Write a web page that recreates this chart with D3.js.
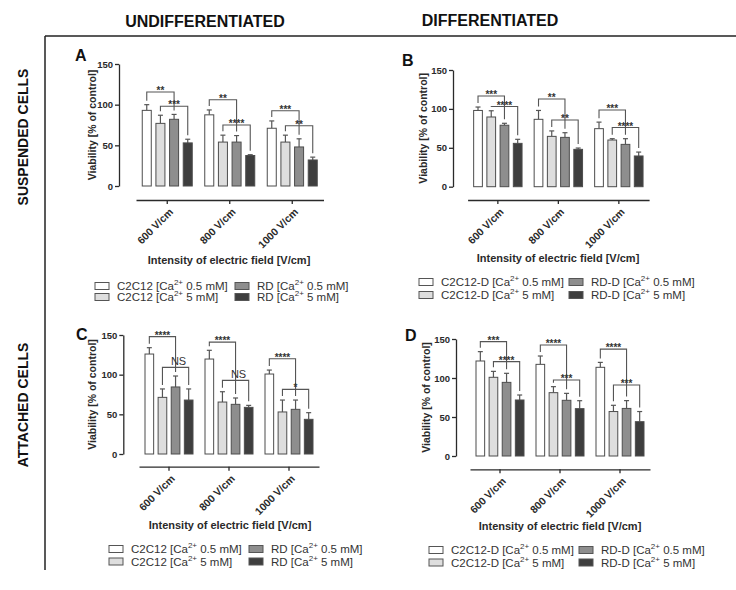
<!DOCTYPE html>
<html><head><meta charset="utf-8">
<script src="https://cdn.jsdelivr.net/npm/d3@7"></script>
<style>body{margin:0;background:#fff} svg{display:block}</style>
</head><body><svg id="c" width="736" height="590"></svg>
<script>
// ---------- data ----------
const groups = ["600 V/cm", "800 V/cm", "1000 V/cm"];
const yTicks = [0, 50, 100, 150];
const seriesKeys = ["s1", "s2", "s3", "s4"];
const seriesColors = ["#ffffff", "#dedede", "#8e8e8e", "#3e3e3e"];
const legendUndiff = [["C2C12", "0.5 mM"], ["C2C12", "5 mM"], ["RD", "0.5 mM"], ["RD", "5 mM"]];
const legendDiff = [["C2C12-D", "0.5 mM"], ["C2C12-D", "5 mM"], ["RD-D", "0.5 mM"], ["RD-D", "5 mM"]];
const columnHeaders = ["UNDIFFERENTIATED", "DIFFERENTIATED"];
const rowHeaders = ["SUSPENDED CELLS", "ATTACHED CELLS"];
const yTitle = "Viability [% of control]";
const xTitle = "Intensity of electric field [V/cm]";

// means[group][series], err[group][series]
const meansA = [[93, 77, 82, 53], [87.5, 54, 54, 37.5], [71, 54, 48, 32]];
const errA = [[7, 10, 6, 4.5], [6, 8.5, 8, 1], [9, 8.5, 10, 3.5]];
// [group, fromSeries, toSeries, label, level]
const sigA = [[0, 0, 2, "**", 115.5], [0, 1, 3, "***", 98], [1, 0, 2, "**", 106], [1, 1, 3, "****", 75], [2, 0, 2, "***", 92.5], [2, 1, 3, "**", 74]];

const meansB = [[98, 89.6, 79, 55.7], [86.6, 64.7, 63.4, 48], [74.6, 60, 54.4, 39.5]];
const errB = [[4.4, 8, 2.5, 5.2], [11.4, 7, 6, 1.7], [8.4, 1.7, 7.3, 5]];
const sigB = [[0, 0, 2, "***", 116.6], [0, 1, 3, "****", 103], [1, 0, 2, "**", 112.7], [1, 1, 3, "**", 85.7], [2, 0, 2, "***", 98.6], [2, 1, 3, "****", 76]];

const meansC = [[126, 71.4, 84.5, 68], [119.7, 65.5, 62.6, 58.8], [100.8, 53, 56.3, 43.7]];
const errC = [[8, 10.6, 13.8, 14], [11, 13, 8, 2.5], [5, 15, 11.7, 8.4]];
const sigC = [[0, 0, 2, "****", 147.9], [0, 1, 3, "NS", 109.2], [1, 0, 2, "****", 141], [1, 1, 3, "NS", 92.8], [2, 0, 2, "****", 120], [2, 1, 3, "*", 81.5]];

const meansD = [[121.8, 100.9, 94.4, 71.8], [117.5, 81.2, 71.4, 60.7], [113.7, 57, 61, 44]];
const errD = [[12, 7.6, 11.6, 6.4], [10.7, 7.7, 8.9, 10.2], [6.3, 8, 10, 13]];
const sigD = [[0, 0, 2, "***", 146.6], [0, 1, 3, "****", 121], [1, 0, 2, "****", 142.3], [1, 1, 3, "***", 97.4], [2, 0, 2, "****", 137], [2, 1, 3, "***", 91]];

// ---------- layout ----------
const FONT = "'Liberation Sans', Arial, Helvetica, sans-serif";
const INK = "#2a2a2a";
const panels = [
  { letter: "A", means: meansA, err: errA, sig: sigA, legend: legendUndiff, letterPos: [75, 61],
    yRange: [186, 64], xRange: [136, 323.5], axisX: 119, xAxisY: 200, yTitleX: 96, xTitlePos: [229, 264],
    leg: { c1: 95, c2: 235, r1: 286, r2: 297 } },
  { letter: "B", means: meansB, err: errB, sig: sigB, legend: legendDiff, letterPos: [402, 66],
    yRange: [186.7, 70], xRange: [467.6, 649.1], axisX: 453, xAxisY: 200, yTitleX: 427, xTitlePos: [558, 262],
    leg: { c1: 419, c2: 569, r1: 282, r2: 295 } },
  { letter: "C", means: meansC, err: errC, sig: sigC, legend: legendUndiff, letterPos: [76, 340],
    yRange: [454, 335], xRange: [139, 319], axisX: 123.3, xAxisY: 466.7, yTitleX: 96, xTitlePos: [230, 529],
    leg: { c1: 109, c2: 249, r1: 549, r2: 561.5 } },
  { letter: "D", means: meansD, err: errD, sig: sigD, legend: legendDiff, letterPos: [405, 341],
    yRange: [456, 339], xRange: [470, 650], axisX: 456, xAxisY: 469.3, yTitleX: 430, xTitlePos: [560, 530],
    leg: { c1: 429, c2: 579, r1: 550, r2: 562.5 } }
];

const svg = d3.select("#c").style("font-family", FONT);

// global frame
svg.append("line").attr("x1", 45).attr("x2", 736).attr("y1", 36).attr("y2", 36).attr("stroke", "#222").attr("stroke-width", 1.5);
svg.append("line").attr("x1", 45).attr("x2", 45).attr("y1", 36).attr("y2", 570).attr("stroke", "#222").attr("stroke-width", 1.5);
svg.append("text").attr("x", 205).attr("y", 27).attr("text-anchor", "middle").attr("font-weight", "bold").attr("font-size", 16).attr("fill", "#111").text(columnHeaders[0]);
svg.append("text").attr("x", 490).attr("y", 26).attr("text-anchor", "middle").attr("font-weight", "bold").attr("font-size", 16).attr("fill", "#111").text(columnHeaders[1]);
svg.append("text").attr("transform", "translate(28,137) rotate(-90)").attr("text-anchor", "middle").attr("font-weight", "bold").attr("font-size", 14).attr("fill", "#111").text(rowHeaders[0]);
svg.append("text").attr("transform", "translate(28,405) rotate(-90)").attr("text-anchor", "middle").attr("font-weight", "bold").attr("font-size", 14).attr("fill", "#111").text(rowHeaders[1]);

panels.forEach(p => {
  const g = svg.append("g");
  const y = d3.scaleLinear().domain([0, 150]).range(p.yRange);
  const x0 = d3.scaleBand().domain(groups).range(p.xRange).paddingInner(0.2).paddingOuter(0.1);
  const x1 = d3.scaleBand().domain(seriesKeys).range([0, x0.bandwidth()]).paddingInner(0.34).paddingOuter(0);
  const color = d3.scaleOrdinal().domain(seriesKeys).range(seriesColors);

  // panel letter
  g.append("text").attr("x", p.letterPos[0]).attr("y", p.letterPos[1]).attr("font-weight", "bold").attr("font-size", 16).attr("fill", "#111").text(p.letter);

  // y axis
  const ya = g.append("g").attr("transform", `translate(${p.axisX},0)`)
    .call(d3.axisLeft(y).tickValues(yTicks).tickSize(4).tickSizeOuter(0));
  ya.select(".domain").attr("stroke", INK).attr("stroke-width", 1.3);
  ya.selectAll(".tick line").attr("stroke", INK).attr("stroke-width", 1.3);
  ya.selectAll(".tick text").attr("font-family", FONT).attr("font-size", 9.5).attr("font-weight", "bold").attr("fill", INK).attr("x", -6);

  // y title
  const yc = (p.yRange[0] + p.yRange[1]) / 2;
  g.append("text").attr("transform", `translate(${p.yTitleX},${yc}) rotate(-90)`).attr("text-anchor", "middle")
    .attr("font-size", 10.5).attr("font-weight", "bold").attr("fill", INK).text(yTitle);

  // x axis
  const xa = g.append("g").attr("transform", `translate(0,${p.xAxisY})`)
    .call(d3.axisBottom(x0).tickSize(4).tickSizeOuter(0));
  xa.select(".domain").attr("stroke", INK).attr("stroke-width", 1.3);
  xa.selectAll(".tick line").attr("stroke", INK).attr("stroke-width", 1.3);
  xa.selectAll(".tick text").attr("font-family", FONT).attr("font-size", 10.5).attr("font-weight", "bold").attr("fill", INK)
    .attr("text-anchor", "end").attr("x", 0).attr("y", 0).attr("dy", "0.35em")
    .attr("transform", "translate(4,10) rotate(-45)");

  // x title
  g.append("text").attr("x", p.xTitlePos[0]).attr("y", p.xTitlePos[1]).attr("text-anchor", "middle")
    .attr("font-size", 11).attr("font-weight", "bold").attr("fill", INK).text(xTitle);

  // bars
  const rows = [];
  p.means.forEach((vals, gi) => vals.forEach((v, si) => rows.push({ g: groups[gi], k: seriesKeys[si], v, e: p.err[gi][si] })));
  const cx = d => x0(d.g) + x1(d.k) + x1.bandwidth() / 2;
  g.selectAll("line.eb").data(rows).join("line").attr("class", "eb")
    .attr("x1", cx).attr("x2", cx).attr("y1", d => y(d.v)).attr("y2", d => y(d.v + d.e))
    .attr("stroke", "#555").attr("stroke-width", 1.2);
  g.selectAll("line.cap").data(rows).join("line").attr("class", "cap")
    .attr("x1", d => cx(d) - 2.5).attr("x2", d => cx(d) + 2.5).attr("y1", d => y(d.v + d.e)).attr("y2", d => y(d.v + d.e))
    .attr("stroke", "#555").attr("stroke-width", 1.2);
  g.selectAll("rect.bar").data(rows).join("rect").attr("class", "bar")
    .attr("x", d => x0(d.g) + x1(d.k)).attr("width", x1.bandwidth())
    .attr("y", d => y(d.v)).attr("height", d => y(0) - y(d.v))
    .attr("fill", d => color(d.k)).attr("stroke", "#4d4d4d").attr("stroke-width", 1);

  // significance brackets
  p.sig.forEach(([gi, a, b, label, level]) => {
    const xa_ = x0(groups[gi]) + x1(seriesKeys[a]) + x1.bandwidth() / 2;
    const xb_ = x0(groups[gi]) + x1(seriesKeys[b]) + x1.bandwidth() / 2;
    const yl = y(level);
    const la = y(p.means[gi][a] + p.err[gi][a]) - 4;
    const lb = y(p.means[gi][b] + p.err[gi][b]) - 4;
    g.append("path").attr("d", `M${xa_},${la}V${yl}H${xb_}V${lb}`).attr("fill", "none").attr("stroke", "#555").attr("stroke-width", 1.1);
    const isNS = label === "NS";
    g.append("text").attr("x", (xa_ + xb_) / 2 + (isNS ? 3 : 0)).attr("y", isNS ? yl - 2.5 : yl + 2)
      .attr("text-anchor", "middle").attr("font-size", isNS ? 11 : 10).attr("font-weight", isNS ? "normal" : "bold")
      .attr("fill", "#333").text(label);
  });

  // legend
  const pos = [[p.leg.c1, p.leg.r1], [p.leg.c1, p.leg.r2], [p.leg.c2, p.leg.r1], [p.leg.c2, p.leg.r2]];
  p.legend.forEach((lab, i) => {
    const [lx, ly] = pos[i];
    g.append("rect").attr("x", lx).attr("y", ly - 3.5).attr("width", 14).attr("height", 7)
      .attr("fill", seriesColors[i]).attr("stroke", "#555").attr("stroke-width", 1);
    const t = g.append("text").attr("x", lx + 22).attr("y", ly + 4).attr("font-size", 11.5).attr("fill", "#333");
    t.append("tspan").text(lab[0] + " [Ca");
    t.append("tspan").attr("dy", -5).attr("font-size", 8).text("2+");
    t.append("tspan").attr("dy", 5).text(" " + lab[1] + "]");
  });
});
</script>
</body></html>
